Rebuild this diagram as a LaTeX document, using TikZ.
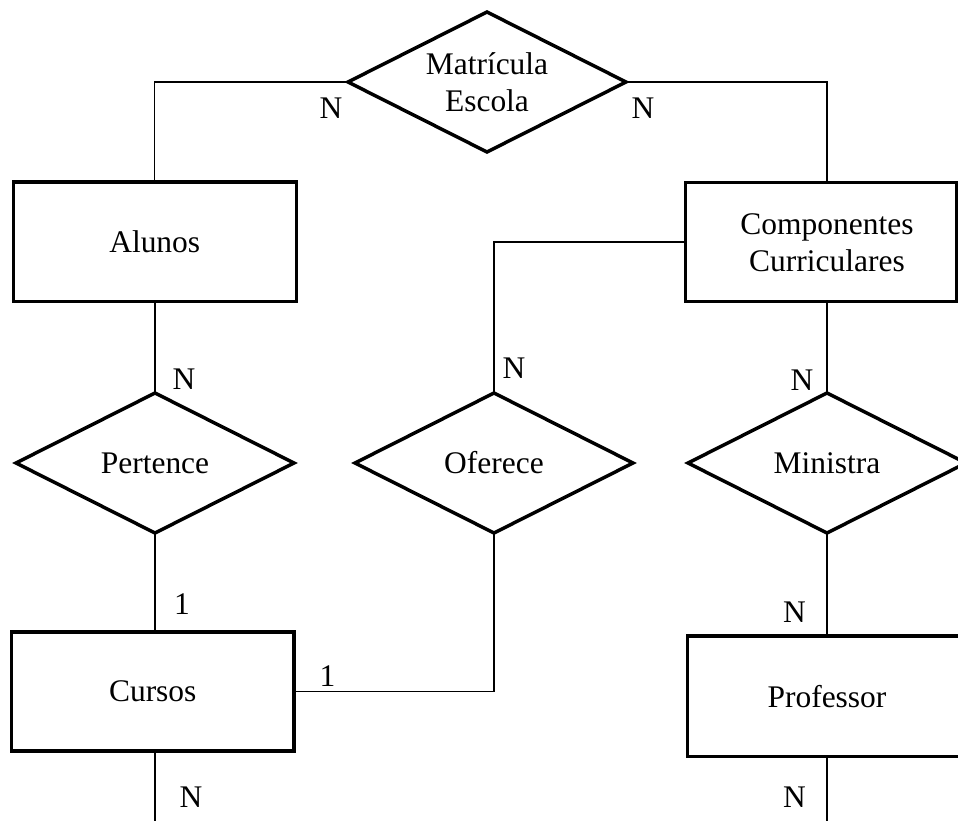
\documentclass[tikz,border=0pt]{standalone}
\usepackage{fontspec}
\setmainfont{Liberation Serif}
\usetikzlibrary{shapes.geometric}
\begin{document}
\begin{tikzpicture}[x=0.75pt,y=-0.75pt,
  font=\fontsize{23.6}{27.5}\selectfont,
  entity/.style={draw, line width=2.6pt, rectangle, inner sep=0pt, outer sep=0pt},
  relation/.style={draw, line width=2.6pt, diamond, inner sep=0pt, outer sep=0pt,
                   minimum width=208.5pt, minimum height=105pt, align=center},
  conn/.style={line width=1.1pt},
  card/.style={inner sep=0pt}]
\useasboundingbox (0,0) rectangle (958,821);
\coordinate (bot) at (0,830);

% relationships
\node[relation] (mat)  at (487,82)  {};
\node[align=center, inner sep=0pt] (mattxt) at (487,82.5) {Matrícula\\Escola};
\node[relation] (pert) at (155,463) {Pertence};
\node[relation] (ofer) at (494,463) {Oferece};
\node[relation] (mini) at (827,463) {Ministra};

% entities
\node[entity, minimum width=212.25pt, minimum height=89.6pt]  (alunos) at (154.75,241.75) {Alunos};
\node[entity, minimum width=211.9pt, minimum height=89.25pt]  (cursos) at (152.75,691.5) {Cursos};
\node[entity, minimum width=203.25pt, minimum height=89.25pt] (comp)   at (821,242) {};
\node[align=center, inner sep=0pt] (comptxt) at (827,243) {Componentes\\Curriculares};
\node[entity, minimum width=209.25pt, minimum height=90.5pt]  (prof)   at (827,696.4) {Professor};

% connectors
\draw[conn] (mat.west) -| (alunos.north);
\draw[conn] (mat.east) -| (comptxt |- comp.north);
\draw[conn] (comp.west) -| (ofer.north);
\draw[conn] (comptxt |- comp.south) -- (mini.north);
\draw[conn] (pert.north |- alunos.south) -- (pert.north);
\draw[conn] (pert.south) -- (pert.south |- cursos.north);
\draw[conn] (cursos.east) -| (ofer.south);
\draw[conn] (mini.south) -- (prof.north);
\draw[conn] (pert.south |- cursos.south) -- (pert.south |- bot);
\draw[conn] (prof.south) -- (prof.south |- bot);

% cardinalities
\node[card] (c1)  at (331,108.5) {N};
\node[card] (c2)  at (643,108.5) {N};
\node[card] (c3)  at (184,379.5) {N};
\node[card] (c4)  at (514,368.5) {N};
\node[card] (c5)  at (802,380)   {N};
\node[card] (c6)  at (182,604)   {1};
\node[card] (c7)  at (327.5,676) {1};
\node[card] (c8)  at (191,797)   {N};
\node[card] (c9)  at (794.5,612) {N};
\node[card] (c10) at (794.5,797) {N};
\end{tikzpicture}
\end{document}
